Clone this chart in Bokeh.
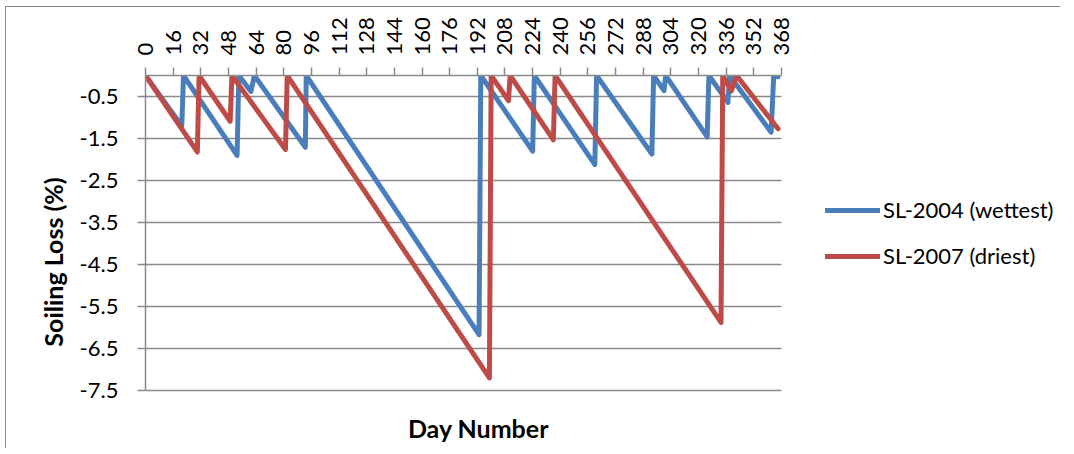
import math
from bokeh.plotting import figure
from bokeh.models import FixedTicker, Legend, LegendItem, Range1d, Label
from bokeh.embed import file_html
from bokeh.resources import INLINE

# ---- data (day number, soiling loss %) ----
blue_days = [0, 21, 22, 53, 54, 61, 63, 92.5, 93, 193, 194, 224, 225, 260, 261,
             293, 294, 300, 301, 325, 326, 337, 338, 362, 363.5, 366]
blue_loss = [0, -1.2, 0, -1.9, 0, -0.38, 0, -1.71, 0, -6.17, 0, -1.8, 0, -2.12, 0,
             -1.87, 0, -0.36, 0, -1.46, 0, -0.64, 0, -1.35, 0, -0.03]

red_days = [0, 30, 31, 49, 50, 81, 82, 199, 200, 210, 211, 236, 237, 333, 334,
            339, 342, 366]
red_loss = [0, -1.82, 0, -1.09, 0, -1.76, 0, -7.2, 0, -0.6, 0, -1.53, 0, -5.88, 0,
            -0.37, 0, -1.27]

x_tick_values = [0, 16, 32, 48, 64, 80, 96, 112, 128, 144, 160, 176, 192, 208,
                 224, 240, 256, 272, 288, 304, 320, 336, 352, 368]
y_tick_values = [-0.5, -1.5, -2.5, -3.5, -4.5, -5.5, -6.5, -7.5]
y_tick_labels = ["-0.5", "-1.5", "-2.5", "-3.5", "-4.5", "-5.5", "-6.5", "-7.5"]

series_names = ["SL-2004 (wettest)", "SL-2007 (driest)"]
x_title = "Day Number"
y_title = "Soiling Loss (%)"

FONT = "Lato"
GRAY = "#8a8a8a"

X_MIN, X_MAX = x_tick_values[0], x_tick_values[-1]
Y_MIN, Y_MAX = -7.5, 0.0
W, H = 1060, 448
FRAME_LEFT, FRAME_TOP = 145, 75
PLOT_W, PLOT_H = 636, 315          # pixel size of the axes' extent
FRAME_W, FRAME_H = W - FRAME_LEFT, H - FRAME_TOP
x_end = X_MIN + (X_MAX - X_MIN) * FRAME_W / PLOT_W
y_start = Y_MAX - (Y_MAX - Y_MIN) * FRAME_H / PLOT_H

p = figure(width=W, height=H,
           x_range=Range1d(X_MIN, x_end), y_range=Range1d(y_start, Y_MAX),
           x_axis_location="above",
           min_border_left=FRAME_LEFT, min_border_right=0,
           min_border_top=FRAME_TOP, min_border_bottom=0,
           output_backend="svg", toolbar_location=None)
p.outline_line_color = None
p.background_fill_color = "white"
p.border_fill_color = None
p.styles = {"background-color": "white",
            "box-shadow": "inset 5px 6px 0 0 #ffffff, inset 6px 7px 0 0 #868686"}

# x axis (top)
xa = p.xaxis[0]
xa.bounds = (X_MIN, X_MAX)
xa.ticker = FixedTicker(ticks=x_tick_values)
xa.major_label_orientation = math.pi / 2
xa.major_label_text_font = FONT
xa.major_label_text_font_size = "22px"
xa.major_label_text_color = "black"
xa.major_label_standoff = 12
xa.major_tick_out = 8
xa.major_tick_in = 0
xa.minor_tick_line_color = None
xa.axis_line_color = GRAY
xa.axis_line_width = 1.5
xa.major_tick_line_color = GRAY
xa.major_tick_line_width = 1.5

# y axis
ya = p.yaxis[0]
ya.bounds = (Y_MIN, Y_MAX)
ya.ticker = FixedTicker(ticks=y_tick_values)
ya.major_label_overrides = dict(zip(y_tick_values, y_tick_labels))
ya.major_label_text_font = FONT
ya.major_label_text_font_size = "22px"
ya.major_label_text_color = "black"
ya.major_label_standoff = 19
ya.major_tick_out = 8
ya.major_tick_in = 0
ya.minor_tick_line_color = None
ya.axis_line_color = GRAY
ya.axis_line_width = 1.5
ya.major_tick_line_color = GRAY
ya.major_tick_line_width = 1.5
ya.axis_label = y_title
ya.axis_label_text_font = FONT
ya.axis_label_text_font_style = "bold"
ya.axis_label_text_font_size = "25px"
ya.axis_label_text_color = "black"
ya.axis_label_standoff = 9

# horizontal gridlines limited to the day axis extent
p.xgrid.visible = False
p.ygrid.visible = False
p.multi_line(xs=[[X_MIN, X_MAX] for _ in y_tick_values],
             ys=[[v, v] for v in y_tick_values],
             line_color=GRAY, line_width=1.5)

r_blue = p.line(blue_days, blue_loss, line_width=5, line_color="#4A7EBB",
                line_join="round", line_cap="round")
r_red = p.line(red_days, red_loss, line_width=5, line_color="#BE4B48",
               line_join="round", line_cap="round")

legend = Legend(items=[LegendItem(label=series_names[0], renderers=[r_blue]),
                       LegendItem(label=series_names[1], renderers=[r_red])],
                location=(680, H - 269), orientation="vertical",
                border_line_color=None, background_fill_alpha=0,
                padding=0, margin=0, spacing=19,
                glyph_width=55, glyph_height=26, label_height=26,
                label_standoff=3,
                label_text_font=FONT, label_text_font_size="22px",
                label_text_color="black")
p.add_layout(legend, "center")

# x-axis title below the plotted extent (screen px, measured from the frame)
p.add_layout(Label(x=478 - FRAME_LEFT, y=H - 427,
                   x_units="screen", y_units="screen",
                   text=x_title, text_font=FONT, text_font_style="bold",
                   text_font_size="25px", text_color="black",
                   text_align="center", text_baseline="middle"))

open("out.html", "w").write(file_html(p, INLINE))
